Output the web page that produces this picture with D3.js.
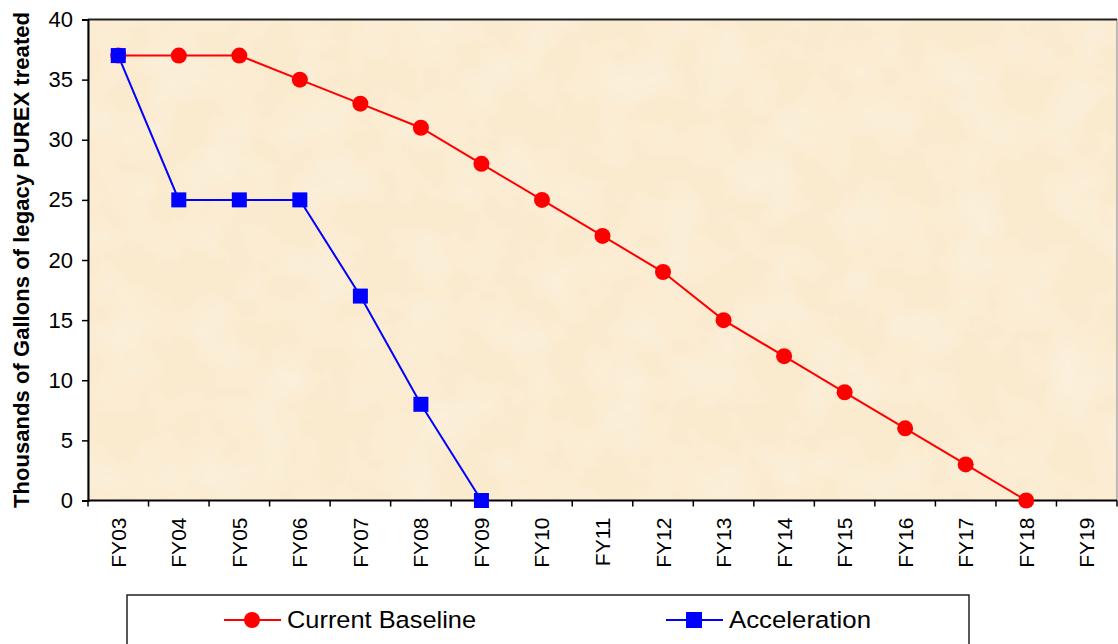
<!DOCTYPE html>
<html>
<head>
<meta charset="utf-8">
<script src="https://cdn.jsdelivr.net/npm/d3@7"></script>
<style>
  html, body { margin: 0; padding: 0; background: #ffffff; }
  svg { display: block; font-family: "Liberation Sans", Arial, sans-serif; }
</style>
</head>
<body>
<svg id="chart" width="1118" height="644"></svg>
<script>
// Fiscal years on the category axis
const years = ["FY03","FY04","FY05","FY06","FY07","FY08","FY09","FY10","FY11","FY12","FY13","FY14","FY15","FY16","FY17","FY18","FY19"];
// Thousands of gallons remaining per year
const baseline = [37, 37, 37, 35, 33, 31, 28, 25, 22, 19, 15, 12, 9, 6, 3, 0, null];
const acceleration = [37, 25, 25, 25, 17, 8, 0, null, null, null, null, null, null, null, null, null, null];
const yTicks = [0, 5, 10, 15, 20, 25, 30, 35, 40];
const seriesNames = ["Current Baseline", "Acceleration"];

const svg = d3.select("#chart");
const plot = { left: 88, top: 19.5, right: 1117, bottom: 500.5 };

const x = d3.scaleBand().domain(years).range([plot.left, plot.right]);
const y = d3.scaleLinear().domain([0, 40]).range([plot.bottom, plot.top]);

// Parchment-style background texture: pale cream with soft lighter patches
const defs = svg.append("defs");
const f = defs.append("filter").attr("id", "paper").attr("x", 0).attr("y", 0).attr("width", 1).attr("height", 1);
f.append("feTurbulence").attr("type", "fractalNoise").attr("baseFrequency", "0.02").attr("numOctaves", 4).attr("seed", 3).attr("result", "noise");
f.append("feColorMatrix").attr("in", "noise").attr("type", "matrix")
  .attr("values", "0 0 0 0 1  0 0 0 0 0.97  0 0 0 0 0.9  0.6 0 0 0 -0.2").attr("result", "spots");
f.append("feComposite").attr("in", "spots").attr("in2", "SourceGraphic").attr("operator", "over");

svg.append("rect")
  .attr("x", plot.left).attr("y", plot.top)
  .attr("width", plot.right - plot.left).attr("height", plot.bottom - plot.top)
  .attr("fill", "#faeace")
  .attr("filter", "url(#paper)");

// Plot frame
svg.append("rect")
  .attr("x", plot.left).attr("y", plot.top)
  .attr("width", plot.right - plot.left).attr("height", plot.bottom - plot.top)
  .attr("fill", "none").attr("stroke", "#808080").attr("stroke-width", 1);
svg.append("line")
  .attr("x1", plot.left).attr("x2", plot.right).attr("y1", plot.top).attr("y2", plot.top)
  .attr("stroke", "#222").attr("stroke-width", 2);

// Y axis
const yAxis = d3.axisLeft(y).tickValues(yTicks).tickSize(6).tickPadding(9);
const gy = svg.append("g").attr("transform", `translate(${plot.left},0)`).call(yAxis);
gy.select(".domain").attr("stroke", "#000").attr("stroke-width", 2);
gy.selectAll(".tick line").attr("stroke", "#000").attr("stroke-width", 1.5);
gy.selectAll(".tick text").attr("font-size", 22).attr("fill", "#000")
  .attr("font-family", "'Liberation Sans', Arial, sans-serif");

// X axis: ticks on band boundaries, labels rotated
const gx = svg.append("g").attr("transform", `translate(0,${plot.bottom})`);
gx.append("line").attr("x1", plot.left).attr("x2", plot.right).attr("y1", 0).attr("y2", 0)
  .attr("stroke", "#000").attr("stroke-width", 2);
const bounds = years.map(d => x(d)).concat([plot.right]);
gx.selectAll("line.tk").data(bounds).join("line").attr("class", "tk")
  .attr("x1", d => d).attr("x2", d => d).attr("y1", 0).attr("y2", 6)
  .attr("stroke", "#000").attr("stroke-width", 1.5);
gx.selectAll("text").data(years).join("text")
  .attr("transform", d => `translate(${x(d) + x.bandwidth() / 2 + 7.5},17) rotate(-90)`)
  .attr("text-anchor", "end")
  .attr("font-size", 21).attr("fill", "#000")
  .text(d => d);

// Y axis title
svg.append("text")
  .attr("transform", `translate(29,${(plot.top + plot.bottom) / 2}) rotate(-90)`)
  .attr("text-anchor", "middle")
  .attr("font-size", 22).attr("font-weight", "bold").attr("fill", "#000")
  .attr("textLength", 496).attr("lengthAdjust", "spacing")
  .text("Thousands of Gallons of legacy PUREX treated");

// Series lines and markers
const cx = d => x(d) + x.bandwidth() / 2;
const line = d3.line().defined(d => d.v != null).x(d => cx(d.k)).y(d => y(d.v));

const baseData = years.map((k, i) => ({ k, v: baseline[i] })).filter(d => d.v != null);
const accData = years.map((k, i) => ({ k, v: acceleration[i] })).filter(d => d.v != null);

svg.append("path").datum(baseData).attr("d", line)
  .attr("fill", "none").attr("stroke", "#ff0000").attr("stroke-width", 2);
svg.append("path").datum(accData).attr("d", line)
  .attr("fill", "none").attr("stroke", "#0000ff").attr("stroke-width", 2);

svg.selectAll("circle.base").data(baseData).join("circle").attr("class", "base")
  .attr("cx", d => cx(d.k)).attr("cy", d => y(d.v)).attr("r", 8)
  .attr("fill", "#ff0000");
svg.selectAll("rect.acc").data(accData).join("rect").attr("class", "acc")
  .attr("x", d => cx(d.k) - 7.5).attr("y", d => y(d.v) - 7.5)
  .attr("width", 15).attr("height", 15)
  .attr("fill", "#0000ff");

// Legend
const lg = svg.append("g");
lg.append("rect").attr("x", 127).attr("y", 595).attr("width", 842).attr("height", 60)
  .attr("fill", "#fff").attr("stroke", "#222").attr("stroke-width", 1.5);
const legendItems = [
  { name: seriesNames[0], color: "#ff0000", shape: "circle", x0: 224, len: 189 },
  { name: seriesNames[1], color: "#0000ff", shape: "square", x0: 666, len: 142 }
];
legendItems.forEach(it => {
  const g = lg.append("g");
  g.append("line").attr("x1", it.x0).attr("x2", it.x0 + 57).attr("y1", 620).attr("y2", 620)
    .attr("stroke", it.color).attr("stroke-width", 2);
  if (it.shape === "circle") {
    g.append("circle").attr("cx", it.x0 + 28).attr("cy", 620).attr("r", 8).attr("fill", it.color);
  } else {
    g.append("rect").attr("x", it.x0 + 28 - 8).attr("y", 620 - 8).attr("width", 16).attr("height", 16).attr("fill", it.color);
  }
  g.append("text").attr("x", it.x0 + 63).attr("y", 628).attr("font-size", 24.5).attr("fill", "#000")
    .attr("textLength", it.len).attr("lengthAdjust", "spacingAndGlyphs")
    .text(it.name);
});
</script>
</body>
</html>
